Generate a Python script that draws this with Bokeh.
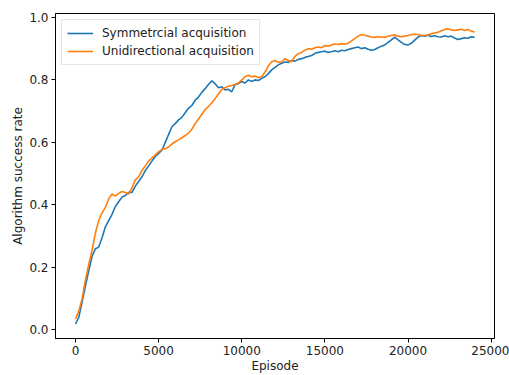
from bokeh.plotting import figure
from bokeh.models import Range1d, FixedTicker, CustomJSTickFormatter, Legend, LegendItem
from bokeh.embed import file_html
from bokeh.resources import INLINE

# Episodes sampled every 200 steps
episodes = list(range(0, 24001, 200))

symmetrical = [
    0.019, 0.040, 0.090, 0.140, 0.190, 0.235, 0.260, 0.265, 0.295, 0.330,
    0.350, 0.370, 0.395, 0.410, 0.425, 0.430, 0.440, 0.440, 0.460, 0.475,
    0.490, 0.510, 0.525, 0.540, 0.555, 0.565, 0.575, 0.600, 0.625, 0.650,
    0.660, 0.672, 0.680, 0.695, 0.710, 0.718, 0.735, 0.745, 0.760, 0.772,
    0.785, 0.797, 0.788, 0.775, 0.778, 0.768, 0.770, 0.762, 0.785, 0.788,
    0.795, 0.790, 0.800, 0.795, 0.800, 0.798, 0.805, 0.810, 0.820, 0.832,
    0.840, 0.848, 0.853, 0.857, 0.856, 0.862, 0.860, 0.865, 0.868, 0.872,
    0.875, 0.878, 0.885, 0.888, 0.890, 0.892, 0.888, 0.890, 0.893, 0.890,
    0.895, 0.893, 0.897, 0.900, 0.903, 0.905, 0.900, 0.903, 0.898, 0.895,
    0.897, 0.903, 0.908, 0.912, 0.920, 0.928, 0.937, 0.928, 0.920, 0.913,
    0.912, 0.917, 0.927, 0.937, 0.942, 0.940, 0.943, 0.939, 0.941, 0.938,
    0.937, 0.941, 0.938, 0.940, 0.934, 0.929, 0.932, 0.935, 0.933, 0.938,
    0.936,
]

unidirectional = [
    0.035, 0.060, 0.100, 0.160, 0.210, 0.255, 0.310, 0.350, 0.375, 0.392,
    0.420, 0.435, 0.428, 0.437, 0.443, 0.440, 0.435, 0.455, 0.480, 0.490,
    0.510, 0.525, 0.540, 0.550, 0.560, 0.570, 0.578, 0.580, 0.585, 0.595,
    0.602, 0.608, 0.615, 0.622, 0.630, 0.642, 0.660, 0.675, 0.690, 0.705,
    0.715, 0.727, 0.740, 0.755, 0.770, 0.775, 0.780, 0.782, 0.785, 0.790,
    0.800, 0.810, 0.815, 0.810, 0.812, 0.808, 0.810, 0.825, 0.845, 0.858,
    0.862, 0.856, 0.858, 0.868, 0.862, 0.858, 0.875, 0.884, 0.888, 0.895,
    0.900, 0.898, 0.903, 0.905, 0.903, 0.910, 0.908, 0.912, 0.915, 0.913,
    0.916, 0.914, 0.917, 0.925, 0.932, 0.940, 0.945, 0.943, 0.940, 0.937,
    0.936, 0.938, 0.937, 0.936, 0.940, 0.942, 0.944, 0.940, 0.938, 0.940,
    0.942, 0.945, 0.946, 0.945, 0.943, 0.942, 0.944, 0.948, 0.950, 0.952,
    0.957, 0.961, 0.964, 0.960, 0.958, 0.960, 0.962, 0.958, 0.961, 0.956,
    0.953,
]

x_ticks = [0, 5000, 10000, 15000, 20000, 25000]
y_ticks = [0.0, 0.2, 0.4, 0.6, 0.8, 1.0]

FONT = "DejaVu Sans"
BLUE = "#1f77b4"
ORANGE = "#ff7f0e"

p = figure(
    width=509, height=375,
    output_backend="svg", toolbar_location=None,
    x_range=Range1d(-1200, 25200),
    y_range=Range1d(-0.0274, 1.0124),
    min_border_left=55, min_border_right=15,
    min_border_top=13, min_border_bottom=36,
    background_fill_color="white", border_fill_color="white",
)

p.grid.visible = False
p.outline_line_color = "black"
p.outline_line_width = 1
p.outline_line_alpha = 1

for ax in (p.xaxis[0], p.yaxis[0]):
    ax.major_label_text_font = FONT
    ax.major_label_text_font_size = "12px"
    ax.major_label_text_color = "#222222"
    ax.axis_label_text_font = FONT
    ax.axis_label_text_font_size = "12px"
    ax.axis_label_text_font_style = "normal"
    ax.axis_label_text_color = "#222222"
    ax.minor_tick_line_color = None
    ax.major_tick_out = 4
    ax.major_tick_in = 0
    ax.major_tick_line_color = "black"
    ax.axis_line_color = "black"
    ax.major_label_standoff = 3
    ax.axis_label_standoff = 1

p.xaxis.ticker = FixedTicker(ticks=x_ticks)
p.yaxis.ticker = FixedTicker(ticks=y_ticks)
p.yaxis.formatter = CustomJSTickFormatter(code="return tick.toFixed(1);")
p.xaxis.axis_label = "Episode"
p.yaxis.axis_label = "Algorithm success rate"

r1 = p.line(episodes, symmetrical, line_color=BLUE, line_width=1.6)
r2 = p.line(episodes, unidirectional, line_color=ORANGE, line_width=1.6)

legend = Legend(
    items=[
        LegendItem(label="Symmetrcial acquisition", renderers=[r1]),
        LegendItem(label="Unidirectional acquisition", renderers=[r2]),
    ],
    location="top_left",
    margin=6,
    padding=5,
    spacing=2,
    glyph_width=26,
    glyph_height=16,
    label_height=16,
    label_standoff=9,
    label_text_font=FONT,
    label_text_font_size="12px",
    label_text_color="#222222",
    border_line_color="#cccccc",
    border_line_width=1,
    background_fill_alpha=0.85,
)
p.add_layout(legend)

open("out.html", "w").write(file_html(p, INLINE))
